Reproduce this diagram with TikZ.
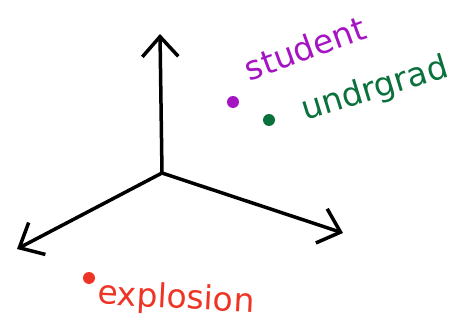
\documentclass[tikz,border=0pt]{standalone}
\usepackage{fontspec}
\setmainfont{DejaVu Sans}
\usetikzlibrary{arrows.meta}
\definecolor{stuPurple}{RGB}{165,20,195}
\definecolor{ugGreen}{RGB}{10,112,60}
\definecolor{exRed}{RGB}{238,52,36}

\begin{document}
\begin{tikzpicture}[
  x=1pt, y=-1pt,
  axis/.style={-{Straight Barb[length=20pt,width=36pt,line width=3.5pt]}, line width=3.5pt, line cap=round},
  blob/.style={circle, fill=#1, inner sep=0pt, minimum size=12pt},
  tag/.style={text=#1, font=\fontsize{33}{36}\selectfont, inner sep=0pt}
]
\useasboundingbox (0,0) rectangle (459,326);

% axes
\coordinate (origin) at (162,173);
\coordinate (up)     at (160,34);
\coordinate (left)   at (17,249);
\coordinate (right)  at (343,233);
\draw[axis] (origin) -- (up);
\draw[axis] (origin) -- (left);
\draw[axis] (origin) -- (right);

% points
\node[blob=stuPurple] (student)  at (233,102) {};
\node[blob=ugGreen]   (undrgrad) at (269,120) {};
\node[blob=exRed]     (explosion) at (89,278) {};

\node[tag=stuPurple, rotate=20] (studentlabel)   at (305,48)  {student};
\node[tag=ugGreen,   rotate=17] (undrgradlabel)  at (375,90)  {undrgrad};
\node[tag=exRed,     rotate=-3] (explosionlabel) at (176,299) {explosion};
\end{tikzpicture}
\end{document}
